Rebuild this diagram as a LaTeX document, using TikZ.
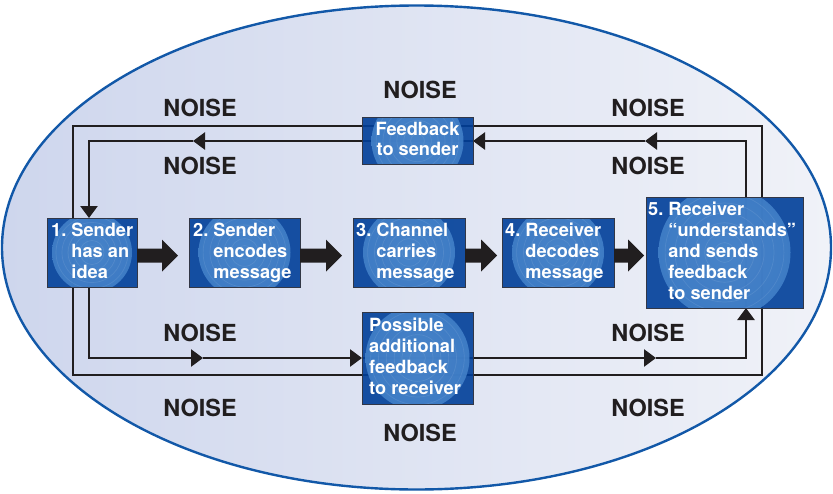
\documentclass[tikz,border=0pt]{standalone}
\usepackage{fontspec}
\setmainfont{TeX Gyre Heros}
\usetikzlibrary{arrows.meta,calc}

\definecolor{boxblue}{RGB}{0,63,153}
\definecolor{ringin}{RGB}{78,138,206}
\definecolor{ringout}{RGB}{66,128,200}
\definecolor{ellline}{RGB}{18,88,168}
\definecolor{elldark}{RGB}{206,214,237}
\definecolor{ellmid}{RGB}{224,229,242}
\definecolor{elllight}{RGB}{240,242,248}
\definecolor{ink}{RGB}{33,30,31}
\definecolor{boxedge}{RGB}{50,55,70}

\pgfdeclarelayer{bg}
\pgfdeclarelayer{wires}
\pgfsetlayers{bg,wires,main}

\tikzset{
  flow/.style={draw=ink, line width=2.6pt},
  tipped/.style={flow, -{Triangle[length=12pt,width=17pt]}},
  ringbox/.style={draw=boxedge, line width=0.8pt, fill=boxblue, fill opacity=0.9,
    anchor=north west, inner sep=0pt, outer sep=0pt,
    path picture={
      \begin{scope}[fill opacity=0.9, draw opacity=0.09]
        \shade[inner color=ringin, outer color=ringout]
          (path picture bounding box.center) circle[radius=#1pt];
        \foreach \k in {0.15,0.3,0.45,0.6,0.75,0.9}
          \draw[white, line width=0.7pt]
            (path picture bounding box.center) circle[radius=\k*#1pt];
      \end{scope}}},
  steptext/.style={anchor=base west, inner sep=0pt, text=white,
    font=\fontsize{18.2}{21}\selectfont\bfseries},
  noise/.style={inner sep=0pt, text=ink,
    font=\fontsize{23.5}{28}\selectfont\bfseries},
  blockarrow/.style={to path={
    let \p1=(\tikztostart), \p2=(\tikztotarget) in
    (\x1,\y1+7pt) -- (\x2-16pt,\y1+7pt) -- (\x2-16pt,\y1+16pt) -- (\x2,\y1)
    -- (\x2-16pt,\y1-16pt) -- (\x2-16pt,\y1-7pt) -- (\x1,\y1-7pt) -- cycle}},
}

\newcommand{\hangrows}[1]{\begin{tabular}[t]{@{}l@{\hspace{0.28em}}l@{}}#1\end{tabular}}

\begin{document}
\begin{tikzpicture}[x=1pt,y=-1pt]
\useasboundingbox (0,0) rectangle (833,493);

% backdrop
\begin{pgfonlayer}{bg}
  \shade[left color=elldark, middle color=ellmid, right color=elllight]
    (416.5,247.5) ellipse[x radius=414.5pt, y radius=242pt];
  \draw[ellline, line width=2.4pt]
    (416.5,247.5) ellipse[x radius=414.5pt, y radius=242pt];
\end{pgfonlayer}

% process boxes
\node[ringbox=40, minimum width=90pt,  minimum height=69pt] (b1) at (47,218) {};
\node[ringbox=46, minimum width=111pt, minimum height=69pt] (b2) at (189,218) {};
\node[ringbox=46, minimum width=112pt, minimum height=69pt] (b3) at (353,218) {};
\node[ringbox=46, minimum width=112pt, minimum height=69pt] (b4) at (502,218) {};
\node[ringbox=66, minimum width=157pt, minimum height=111pt] (b5) at (646,197) {};
\node[ringbox=46, minimum width=111pt, minimum height=47pt] (fb) at (362,117.5) {};
\node[ringbox=52, minimum width=111pt, minimum height=92pt] (pf) at (362,312) {};

% box texts
\node[steptext] (t1) at (51,236) {\hangrows{1. & Sender\\ & has an\\ & idea}};
\node[steptext] (t2) at (193,236) {\hangrows{2. & Sender\\ & encodes\\ & message}};
\node[steptext] (t3) at (356,236) {\hangrows{3. & Channel\\ & carries\\ & message}};
\node[steptext] (t4) at (505,236) {\hangrows{4. & Receiver\\ & decodes\\ & message}};
\node[steptext] (t5) at (648,215) {\hangrows{5. & Receiver\\ & “understands”\\ & and sends\\ & feedback\\ & to sender}};
\node[steptext, anchor=base] (tf) at (417.5,135)
  {\begin{tabular}[t]{@{}c@{}}Feedback\\[-1pt]to sender\end{tabular}};
\node[steptext] (tp) at (369,331)
  {\begin{tabular}[t]{@{}l@{}}Possible\\additional\\feedback\\to receiver\end{tabular}};

% block arrows between the steps
\coordinate (k1s) at ($(b1.east)+(0,3)$);  \coordinate (k1e) at ($(b2.west)+(-11,3)$);
\coordinate (k2s) at ($(b2.east)+(0,3)$);  \coordinate (k2e) at ($(b3.west)+(-11,3)$);
\coordinate (k3s) at ($(b3.east)+(0,3)$);  \coordinate (k3e) at ($(b4.west)+(-5,3)$);
\coordinate (k4s) at ($(b4.east)+(0,3)$);  \coordinate (k4e) at ($(b5.west)+(-2,3)$);
\foreach \i in {1,...,4} \fill[ink, blockarrow] (k\i s) to (k\i e);

% feedback loops
\coordinate (ol) at (73,126);
\coordinate (or) at (762,375);
\coordinate (il) at (89,141);
\coordinate (ir) at (746,358);
\coordinate (aTR) at (645,141);
\coordinate (aTL) at (193,141);
\coordinate (aBL) at (203,358);
\coordinate (aBR) at (656,358);

\begin{pgfonlayer}{wires}
  \draw[flow] (ol) rectangle (or);
  % upper loop: receiver back to sender
  \draw[tipped] (b5.north -| ir) -- (ir |- il) -- (aTR);
  \draw[tipped] (aTR) -- (fb.east);
  \draw[flow] (fb.east) -- (fb.west);
  \draw[tipped] (fb.west) -- (aTL);
  \draw[tipped] (aTL) -- (il) -- (b1.north -| il);
  \draw[flow] (b1.north -| il) -- (b1.south -| il);
  % lower loop: sender on to receiver
  \draw[tipped] (b1.south -| il) -- (il |- ir) -- (aBL);
  \draw[tipped] (aBL) -- (pf.west);
  \draw[flow] (pf.west) -- (pf.east);
  \draw[tipped] (pf.east) -- (aBR);
  \draw[tipped] (aBR) -- (ir) -- (b5.south -| ir);
  \draw[flow] (b5.south -| ir) -- (b5.north -| ir);
\end{pgfonlayer}

% noise labels
\node[noise] (n1)  at (200,108) {NOISE};
\node[noise] (n2)  at (420,90)  {NOISE};
\node[noise] (n3)  at (648,108) {NOISE};
\node[noise] (n4)  at (200,166) {NOISE};
\node[noise] (n5)  at (648,166) {NOISE};
\node[noise] (n6)  at (200,333) {NOISE};
\node[noise] (n7)  at (648,333) {NOISE};
\node[noise] (n8)  at (200,408) {NOISE};
\node[noise] (n9)  at (648,408) {NOISE};
\node[noise] (n10) at (420,433) {NOISE};
\end{tikzpicture}
\end{document}
